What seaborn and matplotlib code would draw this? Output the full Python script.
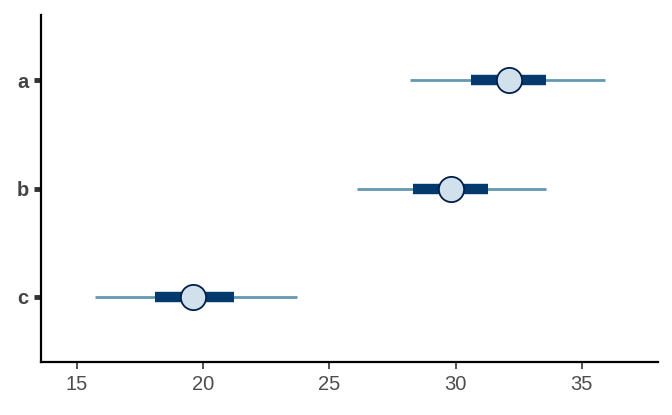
import pandas as pd
import matplotlib.pyplot as plt
import seaborn as sns

# posterior interval summaries (outer 90%, inner 50%, median)
params = ['c', 'b', 'a']
outer_low = [15.7, 26.1, 28.2]
inner_low = [18.1, 28.3, 30.6]
median = [19.6, 29.8, 32.1]
inner_high = [21.2, 31.3, 33.6]
outer_high = [23.7, 33.6, 35.9]


def main():
    df = pd.DataFrame({
        'param': params, 'll': outer_low, 'l': inner_low, 'm': median,
        'h': inner_high, 'hh': outer_high,
    })

    sns.set_theme(style='ticks')
    plt.rcParams['font.family'] = ['Liberation Sans', 'DejaVu Sans']

    fig = plt.figure(figsize=(6.72, 4.15), dpi=100)
    ax = fig.add_axes([41 / 672, 53 / 415, 617 / 672, 347 / 415])

    ax.hlines(df['param'], df['ll'], df['hh'], color='#6497b1', lw=2, zorder=1)
    ax.hlines(df['param'], df['l'], df['h'], color='#03396c', lw=7.5, zorder=2)
    sns.scatterplot(data=df, x='m', y='param', ax=ax, s=330, color='#d1e1ec',
                    edgecolor='#011f4b', linewidth=1.3, zorder=3, legend=False)

    ax.set_xlim(13.57, 38.02)
    ax.set_ylim(-0.6, 2.6)
    ax.set_xticks([15, 20, 25, 30, 35])
    ax.set_xlabel('')
    ax.set_ylabel('')
    sns.despine(ax=ax)
    for side in ['left', 'bottom']:
        ax.spines[side].set_linewidth(1.6)
        ax.spines[side].set_color('black')
    ax.tick_params(axis='x', length=5, width=1.2, color='#333333', labelsize=14.5,
                   labelcolor='#4d4d4d', pad=4)
    ax.tick_params(axis='y', length=5, width=3.5, color='#333333', labelsize=14.5,
                   labelcolor='#444444', pad=4)
    for lab in ax.get_yticklabels():
        lab.set_fontweight('bold')

    fig.savefig('out.png', dpi=100)


if __name__ == "__main__":
    main()
